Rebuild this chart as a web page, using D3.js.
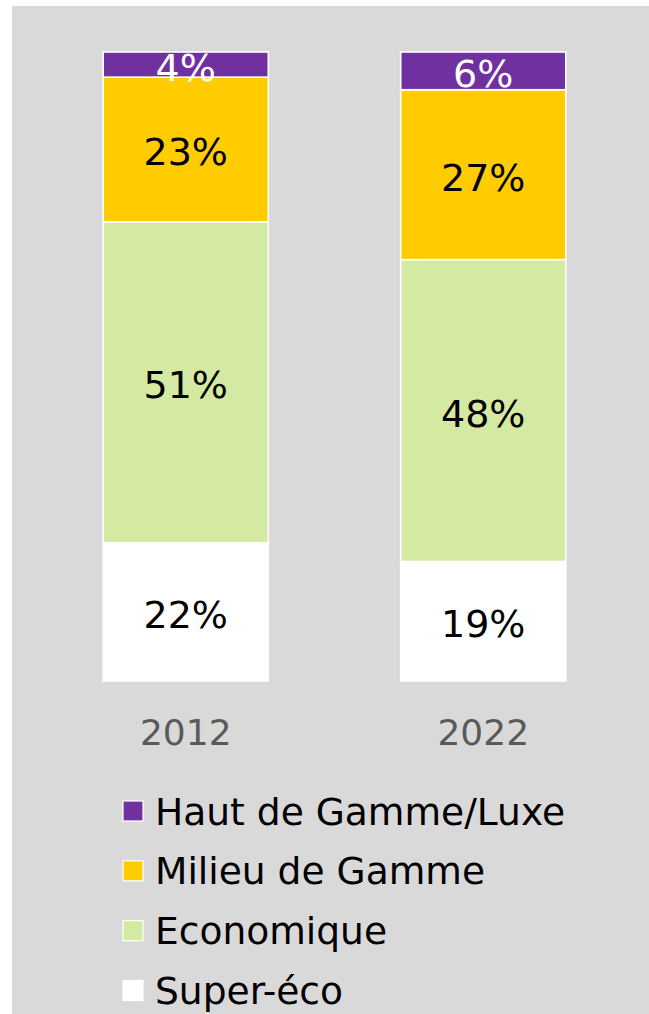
<!DOCTYPE html>
<html>
<head>
<meta charset="utf-8">
<script src="https://cdn.jsdelivr.net/npm/d3@7/dist/d3.min.js"></script>
<style>
  html, body { margin: 0; padding: 0; background: #ffffff; }
  svg { display: block; }
  text { font-family: "DejaVu Sans", Verdana, sans-serif; }
</style>
</head>
<body>
<script>
// ---- Data ----
const years = ["2012", "2022"];
const seriesNames = ["Super-éco", "Economique", "Milieu de Gamme", "Haut de Gamme/Luxe"];
const superEco   = [22, 19];
const economique = [51, 48];
const milieu     = [23, 27];
const hautGamme  = [4, 6];
const seriesColors = ["#ffffff", "#d4eaa2", "#ffcc00", "#7030a0"];
const labelColors  = ["#000000", "#000000", "#000000", "#ffffff"];
const legendOrder  = ["Haut de Gamme/Luxe", "Milieu de Gamme", "Economique", "Super-éco"];

// ---- Build table ----
const seriesValues = [superEco, economique, milieu, hautGamme];
const table = years.map((y, i) => {
  const row = { year: y };
  seriesNames.forEach((s, k) => row[s] = seriesValues[k][i]);
  return row;
});
const stack = d3.stack().keys(seriesNames)(table);

const W = 649, H = 1014;
const svg = d3.select("body").append("svg").attr("width", W).attr("height", H);

// background
svg.append("rect").attr("x", 0).attr("y", 0).attr("width", W).attr("height", H).attr("fill", "#ffffff");
svg.append("rect").attr("x", 12).attr("y", 6).attr("width", W - 12).attr("height", H - 6).attr("fill", "#d9d9d9");

const x = d3.scaleBand().domain(years).range([37, 632]).paddingInner(0.445).paddingOuter(0.2225);
const y = d3.scaleLinear().domain([0, 100]).range([681, 52]);
const color = d3.scaleOrdinal().domain(seriesNames).range(seriesColors);
const lcolor = d3.scaleOrdinal().domain(seriesNames).range(labelColors);

const groups = svg.append("g").selectAll("g").data(stack).join("g")
  .attr("fill", d => color(d.key));

groups.selectAll("rect").data(d => d).join("rect")
  .attr("x", d => x(d.data.year))
  .attr("width", x.bandwidth())
  .attr("y", d => y(d[1]))
  .attr("height", d => y(d[0]) - y(d[1]))
  .attr("stroke", "#ffffff")
  .attr("stroke-width", 1.6);

// value labels
const labels = svg.append("g");
stack.forEach(s => {
  s.forEach(d => {
    labels.append("text")
      .attr("x", x(d.data.year) + x.bandwidth() / 2)
      .attr("y", (y(d[0]) + y(d[1])) / 2 + 16)
      .attr("text-anchor", "middle")
      .attr("font-size", 38)
      .attr("fill", lcolor(s.key))
      .text((d[1] - d[0]) + "%");
  });
});

// x axis labels
const xAxis = svg.append("g").attr("transform", "translate(0,681)")
  .call(d3.axisBottom(x).tickSize(0).tickPadding(0));
xAxis.select(".domain").remove();
xAxis.selectAll("text")
  .attr("y", 64)
  .attr("dy", 0)
  .attr("font-size", 36)
  .attr("font-family", "DejaVu Sans, Verdana, sans-serif")
  .attr("fill", "#595959");

// legend
const legend = svg.append("g");
const ly = d3.scalePoint().domain(legendOrder).range([811.5, 991]);
const items = legend.selectAll("g").data(legendOrder).join("g")
  .attr("transform", d => `translate(0,${ly(d)})`);
items.append("rect")
  .attr("x", 123).attr("y", -10.5).attr("width", 20).attr("height", 20)
  .attr("fill", d => color(d))
  .attr("stroke", "#ffffff").attr("stroke-width", 1.2);
items.append("text")
  .attr("x", 155).attr("y", 13)
  .attr("font-size", 37.6)
  .attr("fill", "#000000")
  .text(d => d);
</script>
</body>
</html>
